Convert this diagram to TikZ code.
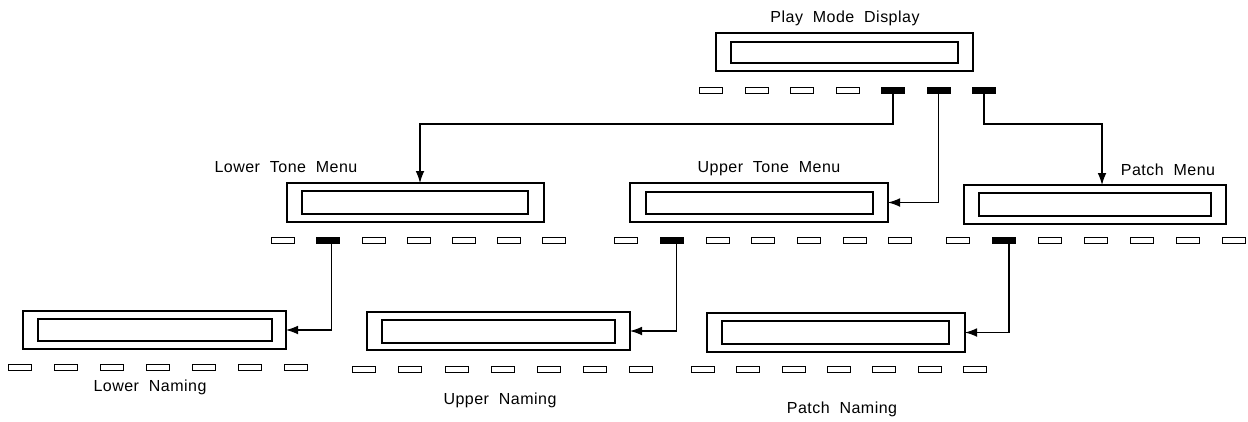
\documentclass[tikz,border=0pt]{standalone}
\usepackage{fontspec}
\newfontfamily\plotfont[LetterSpace=3,WordSpace=2]{Liberation Sans}
\usetikzlibrary{arrows.meta}
\begin{document}
\begin{tikzpicture}[x=0.75pt,y=-0.75pt,
  panel/.style 2 args={draw, line width=0.9pt, inner sep=0pt, outer sep=0pt,
    minimum width=#1*0.75pt, minimum height=#2*0.75pt},
  btn/.style={draw, line width=0.6pt, inner sep=0pt, outer sep=0pt,
    minimum width=17.25pt, minimum height=4.5pt},
  btnon/.style={btn, fill=black},
  lbl/.style={font=\plotfont\fontsize{12pt}{14pt}\selectfont, anchor=base, inner sep=0pt},
  conn/.style={line width=0.8pt, -{Latex[length=9pt,width=6.5pt]}}]
\useasboundingbox (0,0) rectangle (1248,421);

% Play Mode Display
\node[lbl] (tP) at (845,22) {Play Mode Display};
\node[panel={257}{38}] (P) at (844.5,52) {};
\node[panel={227}{21}] (Pi) at (844.5,52.5) {};
\foreach \i in {1,...,4} \node[btn] (Pb\i) at ({711+45.5*(\i-1)},90) {};
\foreach \i in {5,6,7} \node[btnon] (Pb\i) at ({711+45.5*(\i-1)},90) {};

% Lower Tone Menu
\node[lbl] (tL) at (286,172) {Lower Tone Menu};
\node[panel={257}{39}] (L) at (415.5,202.5) {};
\node[panel={226}{23}] (Li) at (415,202.5) {};
\foreach \i in {1,3,4,5,6,7} \node[btn] (Lb\i) at ({283+45.2*(\i-1)},240) {};
\node[btnon] (Lb2) at (328.2,240) {};

% Upper Tone Menu
\node[lbl] (tU) at (769,172) {Upper Tone Menu};
\node[panel={258}{39}] (U) at (759,202.5) {};
\node[panel={227}{22}] (Ui) at (759.5,203) {};
\foreach \i in {1,3,4,5,6,7} \node[btn] (Ub\i) at ({626+45.7*(\i-1)},240.5) {};
\node[btnon] (Ub2) at (671.7,240.5) {};

% Patch Menu
\node[lbl] (tM) at (1168,175) {Patch Menu};
\node[panel={262}{39}] (M) at (1095,204.5) {};
\node[panel={232}{23}] (Mi) at (1095,204.5) {};
\foreach \i in {1,3,4,5,6,7} \node[btn] (Mb\i) at ({958+46*(\i-1)},240.5) {};
\node[btnon] (Mb2) at (1004,240.5) {};

% Lower Naming
\node[panel={263}{38}] (LN) at (154.5,330) {};
\node[panel={234}{22}] (LNi) at (155,330) {};
\foreach \i in {1,...,7} \node[btn] (LNb\i) at ({20+46*(\i-1)},367) {};
\node[lbl] (tLN) at (150,391) {Lower Naming};

% Upper Naming
\node[panel={263}{38}] (UN) at (498.5,331) {};
\node[panel={233}{23}] (UNi) at (498.5,331.5) {};
\foreach \i in {1,...,7} \node[btn] (UNb\i) at ({364+46.2*(\i-1)},369) {};
\node[lbl] (tUN) at (500,404) {Upper Naming};

% Patch Naming
\node[panel={258}{39}] (PN) at (836,332.5) {};
\node[panel={227}{23}] (PNi) at (835.5,332.5) {};
\foreach \i in {1,...,7} \node[btn] (PNb\i) at ({703+45.3*(\i-1)},369.5) {};
\node[lbl] (tPN) at (842,413) {Patch Naming};

% connectors
\coordinate (k1) at (420,124);
\coordinate (k3) at (1102,124);
\draw[conn] (Pb5.south) |- (k1) -- (k1 |- L.north);
\draw[conn] (Pb6.south) |- (U.east);
\draw[conn] (Pb7.south) |- (k3) -- (k3 |- M.north);
\draw[conn] ([xshift=2.25pt]Lb2.south) |- (LN.east);
\draw[conn] ([xshift=3.75pt]Ub2.south) |- (UN.east);
\draw[conn] ([xshift=3.75pt]Mb2.south) |- (PN.east);
\end{tikzpicture}
\end{document}
